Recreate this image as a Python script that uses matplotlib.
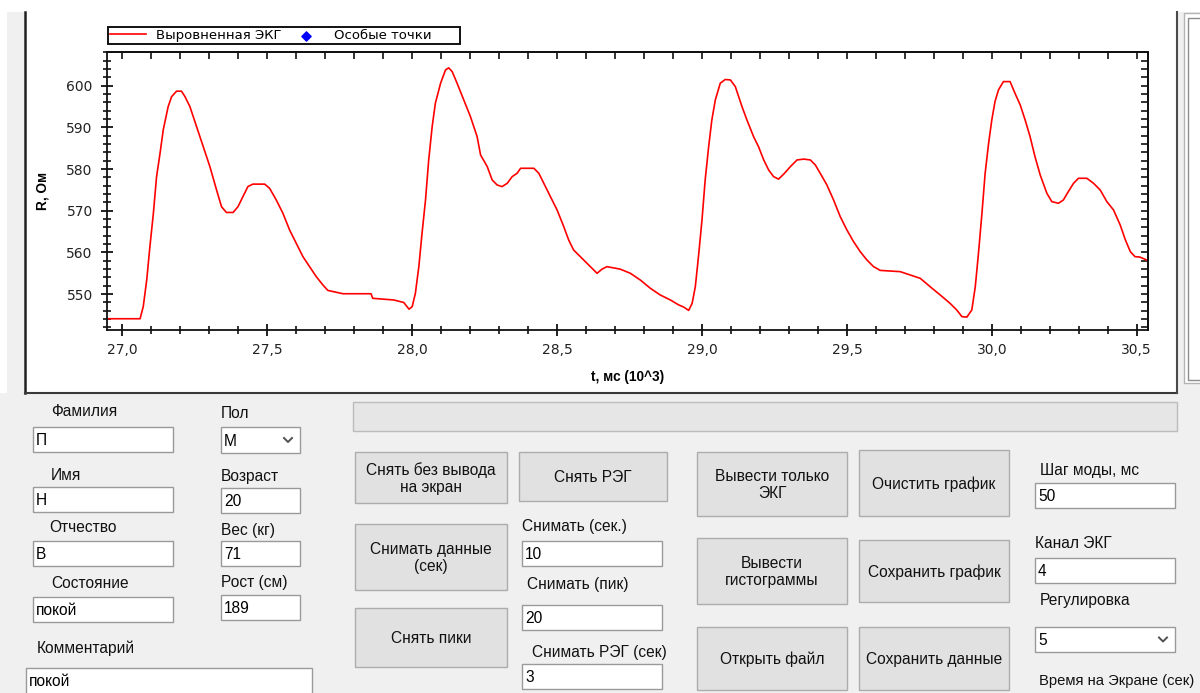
import matplotlib
matplotlib.use("Agg")
import matplotlib.pyplot as plt
from matplotlib.patches import Rectangle
from matplotlib.ticker import MultipleLocator, FuncFormatter, FixedLocator

# ---------------- chart data (t in 10^3 ms, R in Ohm) ----------------
t_ms = [26.952, 27.000, 27.061, 27.072, 27.084, 27.095, 27.107, 27.118, 27.130, 27.141,
        27.158, 27.170, 27.187, 27.204, 27.216, 27.233, 27.256, 27.279, 27.302, 27.325,
        27.342, 27.359, 27.382, 27.399, 27.416, 27.433, 27.450, 27.491, 27.508, 27.531,
        27.554, 27.577, 27.600, 27.623, 27.646, 27.669, 27.692, 27.709, 27.761, 27.858,
        27.864, 27.937, 27.971, 27.989, 28.000, 28.011, 28.023, 28.034, 28.046, 28.057,
        28.069, 28.080, 28.098, 28.115, 28.126, 28.138, 28.155, 28.178, 28.201, 28.224,
        28.236, 28.259, 28.276, 28.293, 28.310, 28.328, 28.345, 28.362, 28.374, 28.420,
        28.437, 28.454, 28.477, 28.500, 28.523, 28.540, 28.557, 28.580, 28.603, 28.626,
        28.638, 28.655, 28.672, 28.718, 28.753, 28.787, 28.822, 28.856, 28.891, 28.920,
        28.937, 28.954, 28.966, 28.977, 28.989, 29.000, 29.011, 29.023, 29.034, 29.046,
        29.063, 29.080, 29.098, 29.115, 29.138, 29.155, 29.178, 29.195, 29.213, 29.230,
        29.247, 29.264, 29.282, 29.305, 29.328, 29.351, 29.374, 29.391, 29.408, 29.431,
        29.454, 29.477, 29.500, 29.523, 29.546, 29.569, 29.592, 29.615, 29.684, 29.718,
        29.753, 29.787, 29.822, 29.856, 29.879, 29.897, 29.914, 29.931, 29.943, 29.954,
        29.966, 29.977, 29.989, 30.000, 30.011, 30.023, 30.040, 30.063, 30.080, 30.098,
        30.115, 30.132, 30.149, 30.167, 30.190, 30.207, 30.230, 30.247, 30.264, 30.282,
        30.299, 30.328, 30.351, 30.374, 30.397, 30.420, 30.443, 30.461, 30.478, 30.494,
        30.511, 30.534]
r_ohm = [544.1, 544.1, 544.1, 547.0, 553.4, 561.4, 569.4, 578.2, 583.8, 589.4,
         595.0, 597.4, 598.7, 598.7, 597.4, 595.0, 590.2, 585.4, 580.6, 575.0,
         571.0, 569.6, 569.6, 571.0, 573.4, 575.8, 576.4, 576.4, 575.4, 572.6,
         569.4, 565.4, 562.2, 559.0, 556.6, 554.2, 552.2, 550.9, 550.1, 550.1,
         549.0, 548.6, 548.0, 546.4, 547.0, 550.2, 556.6, 564.6, 572.6, 582.2,
         590.2, 595.8, 600.6, 603.8, 604.3, 603.4, 600.6, 596.6, 592.6, 587.8,
         583.4, 580.6, 577.4, 576.2, 575.8, 576.6, 578.2, 579.0, 580.2, 580.2,
         579.0, 576.6, 573.4, 570.2, 566.2, 563.0, 560.6, 559.0, 557.4, 555.8,
         555.0, 556.0, 556.6, 556.0, 555.0, 553.4, 551.4, 549.8, 548.6, 547.4,
         546.9, 546.1, 547.8, 551.8, 559.8, 567.8, 577.4, 585.4, 591.8, 596.6,
         600.6, 601.5, 601.4, 599.8, 595.0, 591.8, 587.8, 585.4, 582.2, 579.8,
         578.2, 577.6, 578.8, 580.6, 582.2, 582.4, 582.2, 581.0, 579.0, 576.2,
         572.6, 568.6, 565.4, 562.6, 560.2, 558.2, 556.6, 555.7, 555.4, 554.6,
         553.8, 551.8, 549.8, 547.8, 546.2, 544.6, 544.5, 546.2, 551.8, 559.8,
         569.4, 579.0, 586.2, 591.8, 596.2, 599.0, 601.0, 601.0, 598.2, 595.4,
         591.8, 587.8, 583.0, 578.6, 574.2, 572.2, 571.8, 572.6, 574.6, 576.6,
         577.8, 577.8, 576.6, 575.0, 572.2, 570.2, 566.6, 563.0, 560.2, 559.0,
         558.9, 558.2]
special_t = []
special_r = []

x_ticks = [27.0, 27.5, 28.0, 28.5, 29.0, 29.5, 30.0, 30.5]
y_ticks = [550, 560, 570, 580, 590, 600]
series_names = ["Выровненная ЭКГ", "Особые точки"]
x_label = "t, мс (10^3)"
y_label = "R, Ом"

# ---------------- form contents ----------------
labels = [("Фамилия", 51, 412), ("Имя", 51, 475), ("Отчество", 49, 527),
          ("Состояние", 51, 584), ("Комментарий", 37, 648),
          ("Пол", 221, 414), ("Возраст", 221, 476), ("Вес (кг)", 221, 530),
          ("Рост (см)", 221, 583),
          ("Снимать (сек.)", 522, 527), ("Снимать (пик)", 527, 584),
          ("Снимать РЭГ (сек)", 532, 652),
          ("Шаг моды, мс", 1040, 470), ("Канал ЭКГ", 1035, 543),
          ("Регулировка", 1040, 601)]
edge_label = ("Время на Экране (сек)", 1039, 681)
textboxes = [(33, 427, 173, 452, "П"), (33, 487, 173, 512, "Н"),
             (33, 541, 173, 566, "В"), (33, 597, 173, 622, "покой"),
             (26, 668, 312, 705, "покой"),
             (221, 488, 300, 513, "20"), (221, 541, 300, 566, "71"),
             (221, 595, 300, 620, "189"),
             (522, 541, 662, 566, "10"), (522, 605, 662, 630, "20"),
             (522, 664, 662, 689, "3"),
             (1035, 483, 1175, 508, "50"), (1035, 558, 1175, 583, "4")]
combos = [(221, 427, 300, 453, "М"), (1035, 627, 1175, 652, "5")]
buttons = [(355, 452, 507, 503, "Снять без вывода\nна экран"),
           (355, 524, 507, 590, "Снимать данные\n(сек)"),
           (355, 608, 507, 667, "Снять пики"),
           (519, 452, 667, 501, "Снять РЭГ"),
           (697, 452, 847, 516, "Вывести только\nЭКГ"),
           (697, 538, 847, 604, "Вывести\nгистограммы"),
           (697, 627, 847, 690, "Открыть файл"),
           (859, 450, 1009, 516, "Очистить график"),
           (859, 540, 1009, 602, "Сохранить график"),
           (859, 627, 1009, 690, "Сохранить данные")]

GUI_FONT = "Liberation Sans"
GUI_FS = 11.2

fig = plt.figure(figsize=(12, 6.93), dpi=100, facecolor="white")

# background / form layer in pixel coordinates
gui = fig.add_axes([0, 0, 1, 1])
gui.set_xlim(0, 1200)
gui.set_ylim(693, 0)
gui.axis("off")
gui.set_zorder(0)

gui.add_patch(Rectangle((7, 12), 1200, 700, facecolor="#f0f0f0", edgecolor="none"))
gui.add_patch(Rectangle((0, 393), 10, 300, facecolor="#f0f0f0", edgecolor="none"))
# chart panel
gui.add_patch(Rectangle((24, 12), 1153, 381, facecolor="white", edgecolor="none"))
gui.plot([25, 25], [12, 393], color="#202020", lw=1.8)
gui.plot([25, 1177], [393, 393], color="#3a3a3a", lw=1.5)
gui.plot([1177, 1177], [12, 393], color="#4a4a4a", lw=1.5)
# right side panel
gui.add_patch(Rectangle((1184, 13), 30, 370, facecolor="white", edgecolor="#b4b4b4", lw=1))
gui.add_patch(Rectangle((1188, 18), 30, 362, facecolor="white", edgecolor="#8c8c8c", lw=1))
# progress bar
gui.add_patch(Rectangle((353, 402), 824, 29, facecolor="#e6e6e6", edgecolor="#bcbcbc", lw=1))

for txt, x, y in labels:
    gui.text(x, y, txt, ha="left", va="center", fontsize=GUI_FS, family=GUI_FONT, color="#111111")
gui.text(edge_label[1], edge_label[2], edge_label[0], ha="left", va="center", fontsize=10.6,
         family=GUI_FONT, color="#111111")

for x0, y0, x1, y1, val in textboxes:
    gui.add_patch(Rectangle((x0, y0), x1 - x0, y1 - y0, facecolor="white", edgecolor="#9a9a9a", lw=1))
    yc = (y0 + y1) / 2 if y1 <= 693 else y0 + 13
    gui.text(x0 + 3, yc + 1, val, ha="left", va="center", fontsize=GUI_FS, family=GUI_FONT, color="black")

for x0, y0, x1, y1, val in combos:
    gui.add_patch(Rectangle((x0, y0), x1 - x0, y1 - y0, facecolor="white", edgecolor="#9a9a9a", lw=1))
    yc = (y0 + y1) / 2
    gui.text(x0 + 3, yc + 1, val, ha="left", va="center", fontsize=GUI_FS, family=GUI_FONT, color="black")
    cx = x1 - 12
    gui.plot([cx - 4, cx, cx + 4], [yc - 2, yc + 2, yc - 2], color="#505050", lw=1.4)

for x0, y0, x1, y1, txt in buttons:
    gui.add_patch(Rectangle((x0, y0), x1 - x0, y1 - y0, facecolor="#e1e1e1", edgecolor="#adadad", lw=1))
    gui.text((x0 + x1) / 2, (y0 + y1) / 2 + 1, txt, ha="center", va="center", fontsize=GUI_FS,
             family=GUI_FONT, color="#111111", linespacing=1.1, multialignment="center")

# ---------------- chart ----------------
W, H = 1200.0, 693.0
left, right, top, bottom = 107.3, 1148.3, 52.0, 330.0
ax = fig.add_axes([left / W, 1 - bottom / H, (right - left) / W, (bottom - top) / H])
ax.set_zorder(2)
ax.set_facecolor("white")

ln, = ax.plot(t_ms, r_ohm, color="#ff0000", lw=1.2, label=series_names[0])
sc = ax.scatter(special_t, special_r, marker="D", s=22, color="#0000ff", label=series_names[1])

ax.set_xlim(26.948, 30.540)
ax.set_ylim(541.4, 608.1)
ax.xaxis.set_major_locator(FixedLocator(x_ticks))
ax.xaxis.set_minor_locator(MultipleLocator(0.1))
ax.yaxis.set_major_locator(FixedLocator(y_ticks))
ax.yaxis.set_minor_locator(MultipleLocator(2))
ax.xaxis.set_major_formatter(FuncFormatter(lambda v, p: f"{v:.1f}".replace(".", ",")))
ax.yaxis.set_major_formatter(FuncFormatter(lambda v, p: f"{v:.0f}"))

for s in ax.spines.values():
    s.set_linewidth(1.3)
    s.set_color("#111111")

ax.tick_params(axis="both", which="major", direction="inout", length=9, width=1.3,
               color="#111111", labelsize=10, labelcolor="#222222")
ax.tick_params(axis="both", which="minor", direction="inout", length=6, width=1.2, color="#111111")
ax.tick_params(axis="x", which="major", pad=5)
ax.tick_params(axis="y", which="major", pad=6)
for lab in ax.get_xticklabels() + ax.get_yticklabels():
    lab.set_family("DejaVu Sans")

sx = ax.secondary_xaxis("top")
sx.xaxis.set_major_locator(FixedLocator(x_ticks))
sx.xaxis.set_minor_locator(MultipleLocator(0.1))
sx.tick_params(which="both", direction="in", length=5, width=1.2, labeltop=False, color="#111111")
sx.spines["top"].set_linewidth(1.3)
sy = ax.secondary_yaxis("right")
sy.yaxis.set_major_locator(FixedLocator(y_ticks))
sy.yaxis.set_minor_locator(MultipleLocator(2))
sy.tick_params(which="both", direction="in", length=5, width=1.2, labelright=False, color="#111111")
sy.spines["right"].set_linewidth(1.3)

ax.set_xlabel(x_label, fontsize=9.8, fontweight="bold", family=GUI_FONT, labelpad=9)
ax.set_ylabel(y_label, fontsize=9.8, fontweight="bold", family=GUI_FONT, labelpad=12)

leg = ax.legend(handles=[ln, sc], labels=[series_names[0], series_names[1] + "      "],
                loc="lower left", bbox_to_anchor=(108 / W, 1 - 44 / H), bbox_transform=fig.transFigure,
                ncol=2, frameon=True, fancybox=False, edgecolor="#111111", framealpha=1,
                handlelength=2.7, handletextpad=0.8, columnspacing=0.5,
                borderpad=0.15, borderaxespad=0, prop={"family": "DejaVu Sans", "size": 9.5})
leg.get_frame().set_linewidth(1.4)

fig.savefig("out.png", dpi=100)
